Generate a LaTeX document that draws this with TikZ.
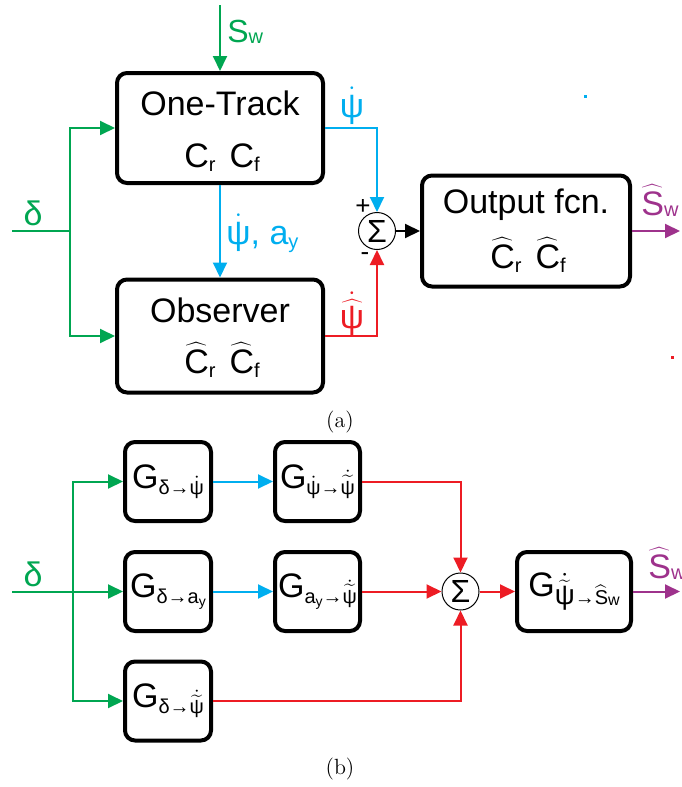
\documentclass[tikz,border=0pt]{standalone}
\usepackage{fontspec}
\newfontfamily\arialf{Liberation Sans}
\usetikzlibrary{arrows.meta}
\definecolor{sgreen}{RGB}{0,166,81}
\definecolor{sblue}{RGB}{0,174,239}
\definecolor{sred}{RGB}{237,28,36}
\definecolor{smag}{RGB}{158,50,140}
\newcommand{\psd}{\ensuremath{\dot{\hbox{ψ}}}}
\newcommand{\pshd}{\ensuremath{\dot{\widehat{\hbox{ψ}}}}}
\newcommand{\pstd}{\ensuremath{\dot{\widetilde{\hbox{ψ}}}}}
\newcommand{\hatc}{\ensuremath{\widehat{\hbox{C}}}}
\newcommand{\hats}{\ensuremath{\widehat{\hbox{S}}}}
\newcommand{\lowsub}[2][2pt]{\raisebox{-#1}{\fontsize{10}{10}\selectfont #2}}
\newcommand{\gsub}[2][3pt]{\raisebox{-#1}{\fontsize{10}{10}\selectfont #2}}
\begin{document}
\begin{tikzpicture}[x=0.5pt, y=-0.5pt,
    blk/.style={draw, line width=2pt, rounded corners=5pt, inner sep=0pt, minimum height=39.5pt,
      font=\arialf\fontsize{17}{20}\selectfont},
    txt/.style={font=\arialf\fontsize{17}{20}\selectfont, inner sep=0pt},
    sumc/.style={draw, circle, line width=0.5pt, minimum size=18.5pt, inner sep=0pt,
      font=\arialf\fontsize{16}{18}\selectfont},
    conn/.style={line width=1pt, -{Triangle[length=7.5pt,width=7pt]}},
    plain/.style={line width=1pt}]
  \useasboundingbox (0,0) rectangle (681,787);

  % (a)
  \node[blk, minimum width=103pt, minimum height=55pt] (track) at (220,128) {};
  \node[blk, minimum width=103pt, minimum height=56.5pt] (obs) at (220,336) {};
  \node[blk, minimum width=104pt, minimum height=55.5pt] (outf) at (526,231) {};
  \node[sumc] (suma) at (377,231) {Σ};

  \node[txt, anchor=base] (tracktxt) at (220,115) {One-Track};
  \node[txt, anchor=base] (trackpar) at (222,167) {C\lowsub{r}\hspace{7pt}C\lowsub{f}};
  \node[txt, anchor=base] (obstxt) at (220,322) {Observer};
  \node[txt, anchor=base] (obspar) at (222,373) {\hatc\lowsub{r}\hspace{7pt}\hatc\lowsub{f}};
  \node[txt, anchor=base] (outtxt) at (526,213) {Output fcn.};
  \node[txt, anchor=base] (outpar) at (528,268) {\hatc\lowsub{r}\hspace{7pt}\hatc\lowsub{f}};

  \node[txt, text=sgreen, anchor=base] (dlta) at (33,225) {δ};
  \node[txt, text=sgreen, anchor=base west, font=\arialf\fontsize{16}{18}\selectfont] (swl) at (227,42) {S\lowsub[0.5pt]{w}};
  \node[txt, text=sblue, anchor=base] (psia) at (352,117) {\psd};
  \node[txt, text=sblue, anchor=base west] (psiay) at (226,244) {\psd, a\lowsub{y}};
  \node[txt, text=sred, anchor=base] (psiha) at (352,328) {\pshd};
  \node[txt, font=\arialf\fontsize{13}{15}\selectfont] (plus) at (363,207) {+};
  \node[txt, font=\arialf\fontsize{13}{15}\selectfont] (minus) at (365,257) {-};
  \node[txt, text=smag, anchor=base west] (swha) at (641,215) {\hats\lowsub[0.5pt]{w}};

  \coordinate (swin) at (220,5);
  \coordinate (din) at (12,231);
  \coordinate (dsplit) at (70,231);
  \coordinate (souta) at (680,231);

  \draw[conn, sgreen] (swin) -- (track.north);
  \draw[plain, sgreen] (din) -- (dsplit);
  \draw[conn, sgreen] (dsplit) |- (track.west);
  \draw[conn, sgreen] (dsplit) |- (obs.west);
  \draw[conn, sblue] (track.east) -| (suma.north);
  \draw[conn, sblue] (track.south) -- (obs.north);
  \draw[conn, sred] (obs.east) -| (suma.south);
  \draw[conn, black] (suma.east) -- (outf.west);
  \draw[conn, smag] (outf.east) -- (souta);

  \fill[sblue] (584,95) rectangle (587,98);
  \fill[sred] (671,356) rectangle (674,359);

  \node[font=\rmfamily\fontsize{11}{13}\selectfont, inner sep=0pt] (capa) at (340,422) {(a)};

  % (b)
  \node[blk, minimum width=43pt] (g11) at (168,481.5) {G\gsub{δ→\psd}};
  \node[blk, minimum width=43pt] (g12) at (168,591.5) {G\gsub{δ→a\lowsub[1.5pt]{\fontsize{7}{7}\selectfont y}}};
  \node[blk, minimum width=43pt] (g13) at (168,701) {G\gsub{δ→\pstd}};
  \node[blk, minimum width=42.5pt] (g21) at (317.5,481.5) {G\gsub{\psd→\pstd}};
  \node[blk, minimum width=42.5pt] (g22) at (317.5,591.5) {G\gsub{a\lowsub[1.5pt]{\fontsize{7}{7}\selectfont y}→\pstd}};
  \node[sumc] (sumb) at (460.5,591.5) {Σ};
  \node[blk, minimum width=57pt] (gout) at (574,591.5) {G\raisebox{-4pt}{\fontsize{14}{14}\selectfont\pstd\fontsize{10}{10}\selectfont→\hats\lowsub[0.5pt]{\fontsize{8}{8}\selectfont w}}};

  \node[txt, text=sgreen, anchor=base] (dltb) at (33,586) {δ};
  \node[txt, text=smag, anchor=base west] (swhb) at (648,578) {\hats\lowsub[0.5pt]{w}};

  \coordinate (dinb) at (12,591.5);
  \coordinate (dsplitb) at (73,591.5);
  \coordinate (soutb) at (680,591.5);

  \draw[conn, sgreen] (dinb) -- (g12.west);
  \draw[conn, sgreen] (dsplitb) |- (g11.west);
  \draw[conn, sgreen] (dsplitb) |- (g13.west);
  \draw[conn, sblue] (g11) -- (g21);
  \draw[conn, sblue] (g12) -- (g22);
  \draw[conn, sred] (g21.east) -| (sumb.north);
  \draw[conn, sred] (g22) -- (sumb);
  \draw[conn, sred] (g13.east) -| (sumb.south);
  \draw[conn, sred] (sumb) -- (gout);
  \draw[conn, smag] (gout.east) -- (soutb);

  \node[font=\rmfamily\fontsize{11}{13}\selectfont, inner sep=0pt] (capb) at (340,769) {(b)};
\end{tikzpicture}
\end{document}
